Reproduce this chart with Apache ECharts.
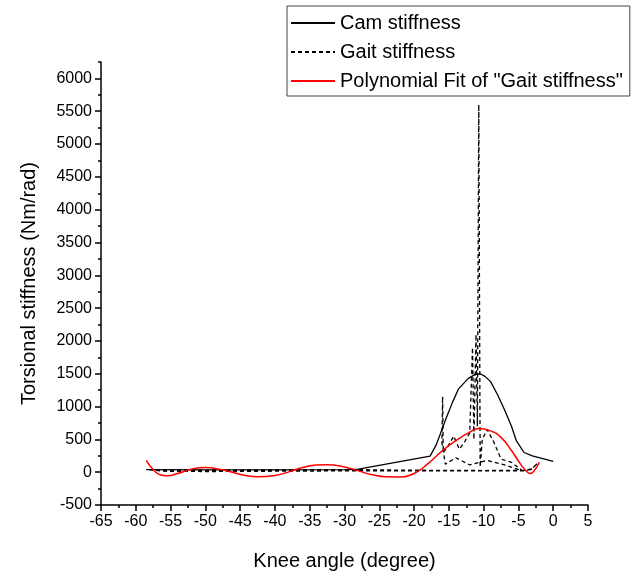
<!DOCTYPE html>
<html>
<head>
<meta charset="utf-8">
<script src="https://cdn.jsdelivr.net/npm/echarts@6/dist/echarts.min.js"></script>
<style>
  html, body { margin: 0; padding: 0; background: #fff; }
  #chart { width: 639px; height: 579px; }
</style>
</head>
<body>
<div id="chart"></div>
<script>
// values
const camStiffness = [
  [-58.5, 40], [-50, 35], [-40, 35], [-30, 40], [-28, 45], [-17.7, 245],
  [-16.8, 420], [-15.5, 790], [-14.5, 1060], [-13.6, 1270], [-12.2, 1430],
  [-11.2, 1490], [-10.5, 1500], [-9.8, 1460], [-9, 1380], [-8, 1180],
  [-7, 950], [-6, 700], [-5.3, 480], [-4.2, 300], [-3, 250], [0, 165]
];

const gaitStiffness = [
  [-2.3, 130], [-3.2, 40], [-4.5, 25], [-7, 110], [-9.5, 180], [-12, 110],
  [-14, 220], [-15.5, 120], [-16, 450], [-15.9, 1150], [-15.8, 300],
  [-15.2, 380], [-14.3, 550], [-13.5, 350], [-12.8, 450], [-12, 600],
  [-11.6, 1900], [-11.4, 500], [-11.1, 2100], [-10.9, 700], [-10.7, 5600],
  [-10.5, 80], [-10.2, 500], [-9.5, 650], [-8.5, 450], [-7.5, 200],
  [-6, 150], [-4.5, 30], [-10, 25], [-20, 30], [-30, 40], [-40, 35],
  [-50, 30], [-55, 35], [-58.3, 40], [-56, 15], [-50, 10], [-40, 15],
  [-30, 20], [-20, 20], [-10, 20], [-4, 20], [-3, 60], [-2.3, 130]
];

const polyFit = [
  [-58.5, 180], [-57.5, 40], [-56.5, -40], [-55.5, -55], [-54, -20],
  [-52, 45], [-50, 70], [-48, 45], [-46, -5], [-44, -55], [-42.5, -70],
  [-40, -50], [-38, 5], [-36, 70], [-34, 110], [-32.5, 115], [-30, 80],
  [-28, 20], [-26, -40], [-24, -70], [-22.5, -72], [-20, -20], [-18, 130],
  [-16, 320], [-14, 480], [-12, 610], [-10.7, 665], [-9, 630], [-7.5, 530],
  [-6, 330], [-5, 170], [-4, 30], [-3.3, -20], [-2.6, 40], [-2.0, 150]
];

const yMajorTicks = [-500, 0, 500, 1000, 1500, 2000, 2500, 3000, 3500, 4000, 4500, 5000, 5500, 6000];

const font = "'Liberation Sans', Arial, sans-serif";

let myChart = echarts.init(document.getElementById("chart"));

let option = {
  animation: false,
  backgroundColor: "#fff",
  textStyle: { fontFamily: font },
  grid: { left: 101, right: 51, top: 62, bottom: 74 },
  legend: {
    orient: "vertical",
    left: 287,
    top: 6,
    itemWidth: 44,
    itemHeight: 14,
    itemGap: 7,
    padding: [6, 7, 4, 3],
    borderColor: "#444",
    borderWidth: 1,
    itemStyle: { opacity: 0 },
    textStyle: { fontFamily: font, fontSize: 20, lineHeight: 22, color: "#000" },
    data: ["Cam stiffness", "Gait stiffness", 'Polynomial Fit of "Gait stiffness"']
  },
  xAxis: {
    type: "value",
    min: -65,
    max: 5,
    interval: 5,
    name: "Knee angle (degree)",
    nameLocation: "middle",
    nameGap: 46,
    nameTextStyle: { fontFamily: font, fontSize: 20, color: "#000" },
    axisLine: { onZero: false, lineStyle: { color: "#000", width: 1.5 } },
    axisTick: { length: 6, lineStyle: { color: "#000", width: 1.5 } },
    minorTick: { show: true, splitNumber: 2, length: 3, lineStyle: { color: "#000", width: 1.5 } },
    axisLabel: { fontFamily: font, fontSize: 16, color: "#000", margin: 9 },
    splitLine: { show: false }
  },
  yAxis: [
    {
      type: "value",
      position: "left",
      min: -500,
      max: 6250,
      interval: 250,
      name: "Torsional stiffness (Nm/rad)",
      nameLocation: "middle",
      nameGap: 62,
      nameTextStyle: { fontFamily: font, fontSize: 20, color: "#000" },
      axisLine: { show: true, onZero: false, lineStyle: { color: "#000", width: 1.5 } },
      axisTick: { length: 3, lineStyle: { color: "#000", width: 1.5 } },
      axisLabel: { show: false },
      splitLine: { show: false }
    },
    {
      type: "value",
      position: "left",
      min: -500,
      max: 6250,
      interval: 500,
      axisLine: { show: false, onZero: false },
      axisTick: { length: 6, customValues: yMajorTicks, lineStyle: { color: "#000", width: 1.5 } },
      axisLabel: {
        customValues: yMajorTicks,
        fontFamily: font, fontSize: 16, color: "#000", margin: 9,
        formatter: (v) => (v > 6000 ? "" : String(v))
      },
      splitLine: { show: false }
    }
  ],
  series: [
    {
      name: "Cam stiffness",
      type: "line",
      data: camStiffness,
      showSymbol: false,
      symbol: "none",
      lineStyle: { color: "#000", width: 1.3 },
      itemStyle: { color: "#000" },
      z: 3
    },
    {
      name: "Gait stiffness",
      type: "line",
      data: gaitStiffness,
      showSymbol: false,
      symbol: "none",
      lineStyle: { color: "#000", width: 1.3, type: [4, 3] },
      itemStyle: { color: "#000" },
      z: 2
    },
    {
      name: 'Polynomial Fit of "Gait stiffness"',
      type: "line",
      data: polyFit,
      smooth: true,
      showSymbol: false,
      symbol: "none",
      lineStyle: { color: "#f00", width: 1.5 },
      itemStyle: { color: "#f00" },
      z: 4
    }
  ]
};

myChart.setOption(option);
</script>
</body>
</html>
